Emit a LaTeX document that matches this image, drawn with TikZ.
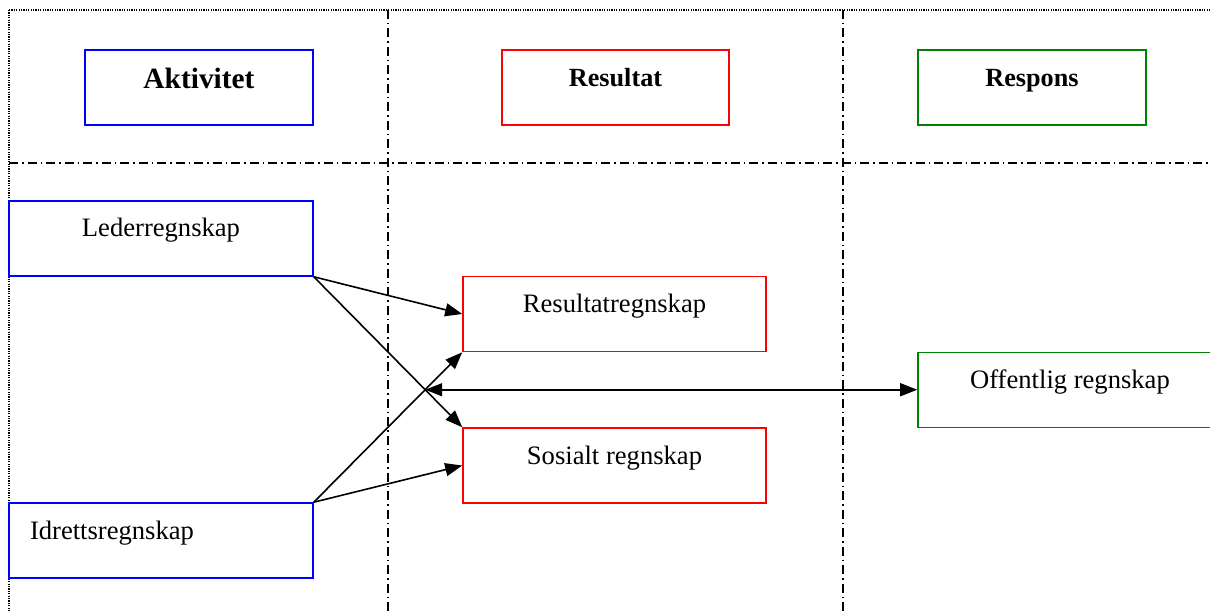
\documentclass[tikz,border=0pt]{standalone}
\usepackage{fontspec}
\setmainfont{Liberation Serif}
\usetikzlibrary{arrows.meta}
\begin{document}
\begin{tikzpicture}[x=1pt,y=-1pt,
  box/.style={draw, line width=1.6pt, inner sep=0pt, minimum height=75pt,
    text height=36pt, text depth=39pt, font=\fontsize{26.6}{32}\selectfont},
  head/.style={box, text height=37pt, text depth=38pt, font=\bfseries\fontsize{26.2}{32}\selectfont},
  blu/.style={draw={rgb,255:red,0;green,0;blue,255}},
  rd/.style={draw={rgb,255:red,255;green,0;blue,0}},
  grn/.style={draw={rgb,255:red,0;green,128;blue,0}},
  border/.style={line width=1.2pt, dash pattern=on 1.2pt off 1.2pt},
  dashdot/.style={line width=1.5pt, dash pattern=on 9pt off 4pt on 1.5pt off 4pt},
  conn/.style={line width=1.6pt, -{Triangle[length=17pt,width=13pt]}},
  dconn/.style={line width=1.6pt, {Triangle[length=17pt,width=13pt]}-{Triangle[length=17pt,width=13pt]}}]
\useasboundingbox (0,0) rectangle (1210,612);
\clip (0,0) rectangle (1210,612);
% frame and lane separators
\draw[border] (9,10) -- (1230,10);
\draw[border] (9,10) -- (9,630);
\draw[dashdot] (388,10) -- (388,612);
\draw[dashdot] (843,10) -- (843,612);
\draw[dashdot] (9,163) -- (1210,163);
% headers
\node[head, blu, minimum width=228pt, text height=39pt, text depth=36pt,
  font=\bfseries\fontsize{29.4}{34}\selectfont] (akt) at (199,87.5) {Aktivitet};
\node[head, rd, minimum width=227pt] (res) at (615.5,87.5) {Resultat};
\node[head, grn, minimum width=228pt] (resp) at (1032,87.5) {Respons};
% boxes
\node[box, blu, minimum width=304pt] (led) at (161,238.5) {Lederregnskap};
\node[box, blu, inner xsep=21pt, text width=262pt, align=left] (idr) at (161,540.5) {Idrettsregnskap};
\node[box, rd, minimum width=303pt] (rr) at (614.5,314) {Resultatregnskap};
\node[box, rd, minimum width=303pt] (sos) at (614.5,465.5) {Sosialt regnskap};
\node[box, grn, minimum width=304pt] (off) at (1070,390) {Offentlig regnskap};
% connectors
\draw[conn] (led.south east) -- (rr.west);
\draw[conn] (led.south east) -- (sos.north west);
\draw[conn] (idr.north east) -- (rr.south west);
\draw[conn] (idr.north east) -- (sos.west);
\coordinate (cross) at (intersection of led.south east--sos.north west and idr.north east--rr.south west);
\draw[dconn] (cross) -- (cross -| off.west);
\end{tikzpicture}
\end{document}
